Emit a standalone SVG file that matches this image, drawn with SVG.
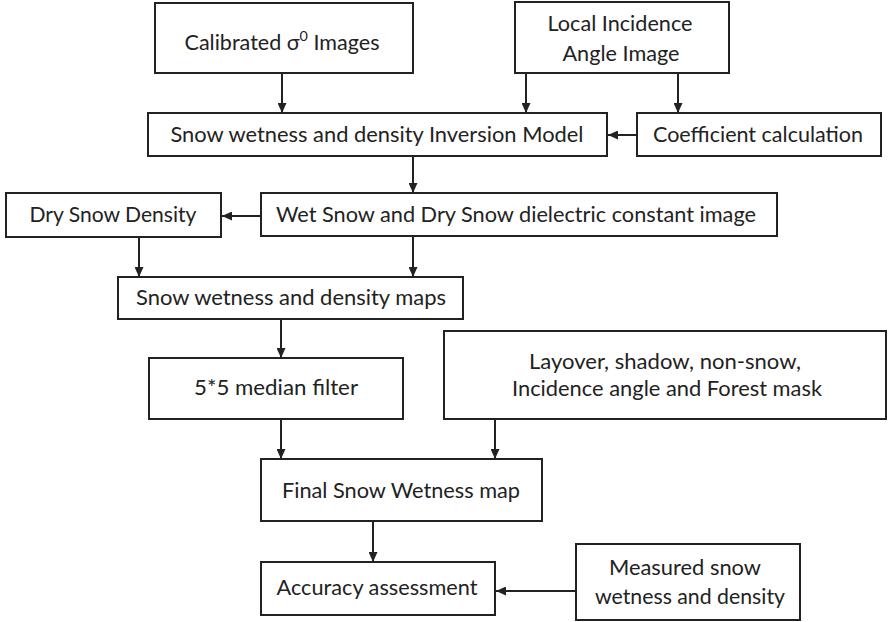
<svg xmlns="http://www.w3.org/2000/svg" width="888" height="622" viewBox="0 0 888 622">
<style>
.box{fill:#fff;stroke:#222;stroke-width:2}
.t{font-family:Lato,"Liberation Sans",Arial,sans-serif;font-size:21px;fill:#222;text-anchor:middle}
.c{stroke:#222;stroke-width:2;fill:none;marker-end:url(#ah)}
</style>
<defs>
<marker id="ah" markerWidth="10" markerHeight="9" refX="10" refY="4.5" orient="auto" markerUnits="userSpaceOnUse">
<path d="M0,0 L10,4.5 L0,9 Z" fill="#222"/>
</marker>
</defs>
<rect width="888" height="622" fill="#fff"/>
<g id="connectors">
<line class="c" x1="282" y1="73" x2="282" y2="113"/>
<line class="c" x1="526" y1="73" x2="526" y2="113"/>
<line class="c" x1="678" y1="73" x2="678" y2="113"/>
<line class="c" x1="637" y1="135" x2="608" y2="135"/>
<line class="c" x1="413" y1="157" x2="413" y2="193"/>
<line class="c" x1="261" y1="216" x2="222" y2="216"/>
<line class="c" x1="139" y1="237" x2="139" y2="277"/>
<line class="c" x1="413" y1="236" x2="413" y2="277"/>
<line class="c" x1="281" y1="319" x2="281" y2="358"/>
<line class="c" x1="281" y1="419" x2="281" y2="459"/>
<line class="c" x1="495" y1="419" x2="495" y2="459"/>
<line class="c" x1="373" y1="521" x2="373" y2="562"/>
<line class="c" x1="576" y1="591" x2="496" y2="591"/>
</g>
<g id="calibrated">
<rect class="box" x="155" y="3" width="258" height="70"/>
<text class="t" x="282" y="50" textLength="195" lengthAdjust="spacingAndGlyphs">Calibrated σ<tspan dy="-9" font-size="14">0</tspan><tspan dy="9"> Images</tspan></text>
</g>
<g id="local-incidence">
<rect class="box" x="515" y="2" width="214" height="71"/>
<text class="t" x="620" y="31" textLength="145" lengthAdjust="spacingAndGlyphs">Local Incidence</text>
<text class="t" x="621" y="61" textLength="117" lengthAdjust="spacingAndGlyphs">Angle Image</text>
</g>
<g id="inversion-model">
<rect class="box" x="148" y="113" width="459" height="43"/>
<text class="t" x="377" y="142" textLength="413" lengthAdjust="spacingAndGlyphs">Snow wetness and density Inversion Model</text>
</g>
<g id="coefficient">
<rect class="box" x="637" y="113" width="244" height="43"/>
<text class="t" x="758" y="142" textLength="210" lengthAdjust="spacingAndGlyphs">Coefficient calculation</text>
</g>
<g id="dry-snow-density">
<rect class="box" x="6" y="193" width="215" height="44"/>
<text class="t" x="113" y="222" textLength="167" lengthAdjust="spacingAndGlyphs">Dry Snow Density</text>
</g>
<g id="dielectric">
<rect class="box" x="261" y="193" width="516" height="43"/>
<text class="t" x="516" y="222" textLength="480" lengthAdjust="spacingAndGlyphs">Wet Snow and Dry Snow dielectric constant image</text>
</g>
<g id="maps">
<rect class="box" x="118" y="277" width="345" height="42"/>
<text class="t" x="291" y="305" textLength="310" lengthAdjust="spacingAndGlyphs">Snow wetness and density maps</text>
</g>
<g id="median">
<rect class="box" x="149" y="358" width="254" height="61"/>
<text class="t" x="276" y="395" textLength="164" lengthAdjust="spacingAndGlyphs">5*5 median filter</text>
</g>
<g id="masks">
<rect class="box" x="444" y="331" width="442" height="88"/>
<text class="t" x="665" y="369" textLength="272" lengthAdjust="spacingAndGlyphs">Layover, shadow, non-snow,</text>
<text class="t" x="667" y="396" textLength="310" lengthAdjust="spacingAndGlyphs">Incidence angle and Forest mask</text>
</g>
<g id="final">
<rect class="box" x="261" y="459" width="281" height="62"/>
<text class="t" x="401" y="498" textLength="238" lengthAdjust="spacingAndGlyphs">Final Snow Wetness map</text>
</g>
<g id="accuracy">
<rect class="box" x="261" y="562" width="234" height="53"/>
<text class="t" x="377" y="595" textLength="201" lengthAdjust="spacingAndGlyphs">Accuracy assessment</text>
</g>
<g id="measured">
<rect class="box" x="576" y="544" width="224" height="76"/>
<text class="t" x="685" y="575" textLength="152" lengthAdjust="spacingAndGlyphs">Measured snow</text>
<text class="t" x="690" y="604" textLength="190" lengthAdjust="spacingAndGlyphs">wetness and density</text>
</g>
</svg>
